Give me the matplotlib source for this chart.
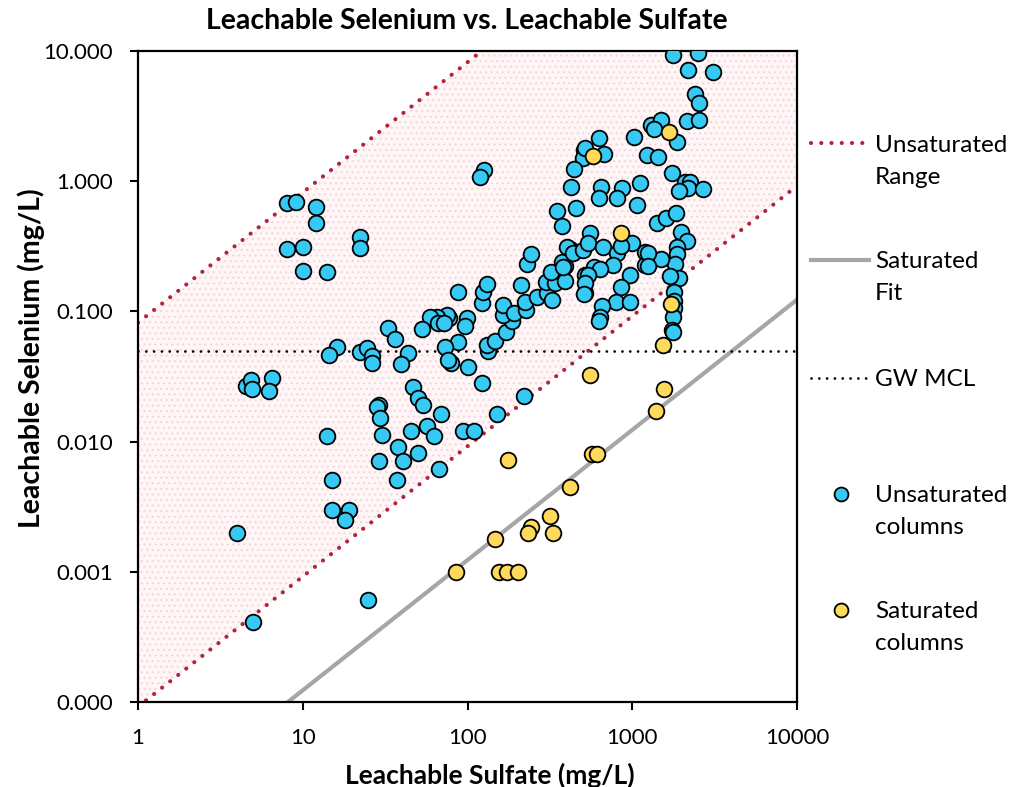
import numpy as np
import matplotlib
matplotlib.use("Agg")
import matplotlib.pyplot as plt
from matplotlib.lines import Line2D

plt.rcParams['font.family'] = ['Lato', 'DejaVu Sans']
plt.rcParams['hatch.linewidth'] = 0.8

# Unsaturated column leachate results (sulfate mg/L, selenium mg/L)
unsat_sulfate = [
    3.99, 4.99, 24.9, 4.52, 4.85, 4.92, 6.51, 6.24, 14.0, 15.0, 15.0, 19.1, 18.0,
    8.02, 9.10, 12.0, 12.0, 8.02, 10.0, 10.0, 14.0, 22.3, 22.3, 126, 119,
    16.1, 14.4, 22.3, 24.5, 26.3, 26.3, 32.9, 36.3, 43.5, 39.5,
    46.7, 50.1, 53.7, 29.0, 28.2, 29.4, 69.0, 56.8, 62.6, 45.4, 30.3, 37.9, 50.1,
    29.0, 40.6, 37.3, 67.1, 93.9, 109, 151, 220,
    87.5, 99.3, 96.5, 77.2, 75.1, 65.3, 59.2, 66.2, 72.0, 53.0, 87.5, 73.0, 79.4,
    76.2, 100.7, 122, 133, 131, 147, 171, 186, 164, 164, 192, 227, 223, 122, 124,
    131, 211, 264, 304, 326, 299, 340, 321, 391, 391, 230, 243, 517, 517,
    375, 380, 349, 456, 375, 509, 502, 443, 425, 419, 402, 437, 502, 554, 539,
    628, 517, 674, 646, 628, 867, 808, 1114, 1069, 1025, 1230, 664, 808, 996, 855,
    764, 1194, 1194, 586, 637, 539, 517, 509, 968, 855, 796, 968, 655, 637, 628,
    1413, 1603, 1843, 1977, 2149, 1869, 1869, 1817, 1922, 1695, 1792, 1792, 1792,
    1767, 1743, 1767, 1494, 1247, 1247,
    1767, 2506, 2179, 3090, 2404, 2541, 2149, 2541, 1300, 1494, 1355, 1869,
    1433, 1743, 2091, 2244, 2179, 1922, 2687,
]
unsat_selenium = [
    0.0020, 0.00041, 0.00061, 0.0267, 0.0297, 0.0254, 0.0308, 0.0245, 0.0110, 0.0051, 0.0030, 0.0030, 0.0025,
    0.68, 0.69, 0.634, 0.477, 0.301, 0.312, 0.204, 0.201, 0.373, 0.307, 1.22, 1.08,
    0.0533, 0.0462, 0.0488, 0.0524, 0.0454, 0.0402, 0.0746, 0.0614, 0.0479, 0.0395,
    0.0263, 0.0216, 0.0191, 0.0191, 0.0184, 0.0152, 0.0163, 0.0132, 0.0110, 0.0121, 0.0112, 0.0091, 0.0082,
    0.0071, 0.0071, 0.0051, 0.0062, 0.0121, 0.0121, 0.0163, 0.0224,
    0.141, 0.089, 0.0773, 0.089, 0.094, 0.0906, 0.0906, 0.0815, 0.0815, 0.0733, 0.0582, 0.0533, 0.0402,
    0.0423, 0.0374, 0.0282, 0.0497, 0.0552, 0.0593, 0.0695, 0.0844, 0.094, 0.112, 0.097, 0.103, 0.118, 0.116, 0.141,
    0.162, 0.159, 0.129, 0.138, 0.122, 0.168, 0.165, 0.201, 0.223, 0.171, 0.231, 0.276, 0.190, 0.138,
    0.239, 0.219, 0.590, 0.623, 0.453, 1.74, 1.51, 1.24, 0.902, 0.301, 0.312, 0.281, 0.296, 0.400, 0.335,
    2.15, 1.80, 1.62, 0.902, 0.743, 0.887, 0.743, 0.969, 0.656, 2.18, 1.59, 0.312, 0.281, 0.335, 0.318,
    0.227, 0.286, 0.227, 0.219, 0.212, 0.190, 0.165, 0.136, 0.190, 0.154, 0.118, 0.118, 0.110, 0.0906, 0.0844,
    0.477, 0.521, 0.570, 0.407, 0.347, 0.312, 0.276, 0.231, 0.181, 0.187, 0.141, 0.120, 0.106,
    0.0906, 0.0720, 0.0695, 0.253, 0.281, 0.223,
    9.31, 9.66, 7.14, 6.90, 4.68, 3.99, 2.90, 2.95, 2.70, 2.95, 2.52, 2.00,
    1.53, 1.16, 0.986, 0.986, 0.887, 0.841, 0.871,
]

# Saturated column leachate results
sat_sulfate = [578, 1671, 855, 1719, 1538, 554, 1559, 1393, 570, 611, 419,
               317, 243, 233, 330, 147, 85.1, 155, 174, 203, 176]
sat_selenium = [1.56, 2.39, 0.400, 0.114, 0.0552, 0.0325, 0.0254, 0.0172, 0.0080, 0.0081, 0.0045,
                0.0027, 0.0022, 0.0020, 0.0020, 0.0018, 0.0010, 0.0010, 0.0010, 0.0010, 0.0072]

# Reference relationships (Se = k * SO4)
range_upper_k = 0.082
range_lower_k = 9.2e-5
sat_fit_k = 1.23e-5
gw_mcl = 0.05

x_ticks = [1, 10, 100, 1000, 10000]
x_ticklabels = ['1', '10', '100', '1000', '10000']
y_ticks = [0.0001, 0.001, 0.01, 0.1, 1, 10]
y_ticklabels = ['0.000', '0.001', '0.010', '0.100', '1.000', '10.000']

W, H = 1028, 787
fig = plt.figure(figsize=(W / 100, H / 100), dpi=100)
ax = fig.add_axes([138 / W, 1 - 702 / H, (797 - 138) / W, (702 - 51) / H])
ax.set_xscale('log')
ax.set_yscale('log')
ax.set_xlim(1, 10000)
ax.set_ylim(0.0001, 10)

xs = np.logspace(0, 4, 200)
red = '#b1253a'
ax.fill_between(xs, range_lower_k * xs, range_upper_k * xs,
                facecolor='#fef6f7', edgecolor='#f8d3d8', hatch='...',
                linewidth=0, zorder=1)
ax.plot(xs, range_upper_k * xs, color=red, lw=3.0,
        linestyle=(0, (0.01, 2.45)), dash_capstyle='round', zorder=2)
ax.plot(xs, range_lower_k * xs, color=red, lw=3.0,
        linestyle=(0, (0.01, 2.45)), dash_capstyle='round', zorder=2)
ax.plot(xs, sat_fit_k * xs, color='#a6a6a6', lw=3.0, solid_capstyle='butt', zorder=2)
ax.axhline(gw_mcl, color='black', lw=2.0, linestyle=(0, (0.01, 2.8)),
           dash_capstyle='round', zorder=2)

mk = dict(marker='o', linestyle='none', markersize=11.3, markeredgecolor='black',
          markeredgewidth=1.3)
ax.plot(unsat_sulfate, unsat_selenium, markerfacecolor='#35c9f4', zorder=3, **mk)
ax.plot(sat_sulfate, sat_selenium, markerfacecolor='#ffd95a', zorder=4, **mk)

ax.set_xticks(x_ticks)
ax.set_xticklabels(x_ticklabels)
ax.set_yticks(y_ticks)
ax.set_yticklabels(y_ticklabels)
ax.minorticks_off()
ax.tick_params(axis='both', direction='out', length=6, width=1.5, labelsize=16,
               colors='black')
ax.tick_params(axis='x', pad=13)
ax.tick_params(axis='y', pad=12)
for s in ax.spines.values():
    s.set_linewidth(1.6)
    s.set_color('black')

fig.text(467 / W, 1 - 21 / H, 'Leachable Selenium vs. Leachable Sulfate',
         ha='center', va='center', fontsize=20.5, fontweight='bold')
fig.text(490 / W, 1 - 775 / H, 'Leachable Sulfate (mg/L)',
         ha='center', va='center', fontsize=19, fontweight='bold')
fig.text(31 / W, 1 - 358 / H, 'Leachable Selenium (mg/L)',
         ha='center', va='center', fontsize=20.5, fontweight='bold', rotation=90)

# Legend drawn at the right of the plot area
def fx(px):
    return px / W

def fy(py):
    return 1 - py / H

fig.add_artist(Line2D([fx(811), fx(866)], [fy(143), fy(143)], color=red, lw=3.0,
                      linestyle=(0, (0.01, 2.45)), dash_capstyle='round'))
fig.add_artist(Line2D([fx(811), fx(869)], [fy(260), fy(260)], color='#a6a6a6', lw=3.0))
fig.add_artist(Line2D([fx(811), fx(868)], [fy(378), fy(378)], color='black', lw=2.0,
                      linestyle=(0, (0.01, 2.8)), dash_capstyle='round'))
fig.add_artist(Line2D([fx(841)], [fy(494)], marker='o', markersize=10,
                      markerfacecolor='#35c9f4', markeredgecolor='black', markeredgewidth=1.3))
fig.add_artist(Line2D([fx(841)], [fy(610)], marker='o', markersize=10,
                      markerfacecolor='#ffd95a', markeredgecolor='black', markeredgewidth=1.3))

legend_lines = [
    (143, 'Unsaturated'), (176, 'Range'),
    (260, 'Saturated'), (292, 'Fit'),
    (378, 'GW MCL'),
    (494, 'Unsaturated'), (526, 'columns'),
    (610, 'Saturated'), (642, 'columns'),
]
for py, txt in legend_lines:
    fig.text(fx(875), fy(py), txt, ha='left', va='center_baseline', fontsize=17.5)

fig.savefig('out.png', dpi=100)
